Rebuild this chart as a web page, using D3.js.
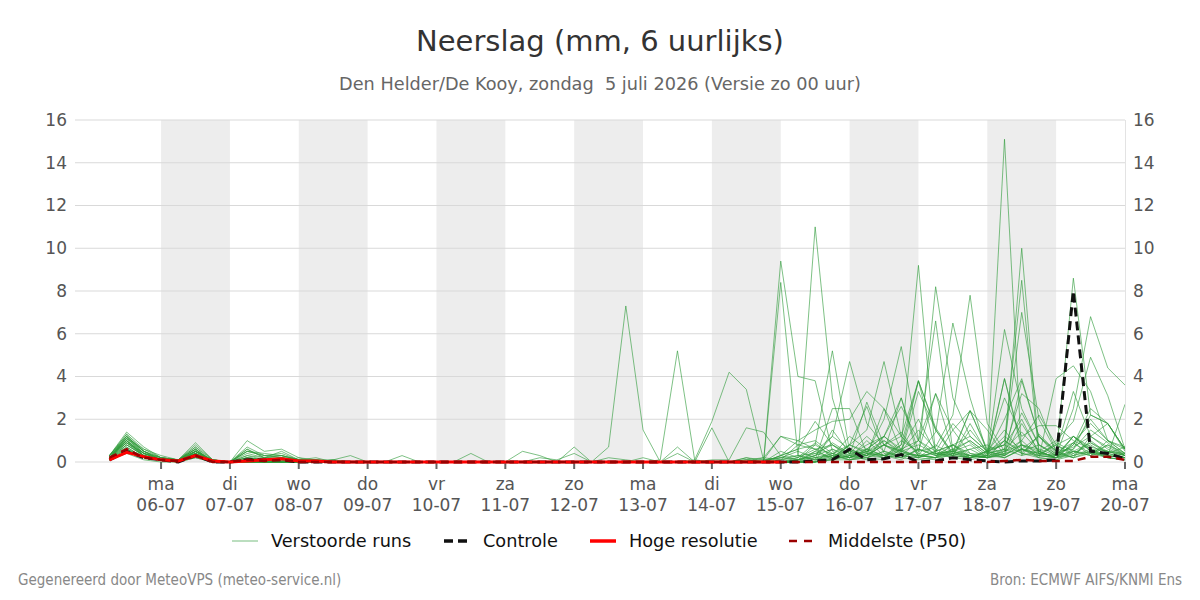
<!DOCTYPE html>
<html lang="nl">
<head>
    <meta charset="UTF-8">
    <title>Neerslag ensemble</title>
    <script src="https://d3js.org/d3.v7.min.js"></script>
    <style>
        body { margin: 0; background: #fff; }
        svg { font-family: "DejaVu Sans", sans-serif; }
    </style>
</head>
<body>
    <div id="chart"></div>

    <script>
        // 6-hourly steps, first value at zo 05-07 06:00 UTC
        const firstStep = Date.UTC(2026, 6, 5, 6);
        const stepHours = 6;
        const dayNames = ["zo", "ma", "di", "wo", "do", "vr", "za"];
        const yTicks = [0, 2, 4, 6, 8, 10, 12, 14, 16];

        // perturbed ensemble members (mm per 6 h)
        const runs = [
            [0.3,1.4,0.7,0.2, 0.1,0.9,0.1,0, 0.2,0.1,0.2,0.1, 0.1,0.1,0.3,0, 0,0,0,0, 0,0,0,0, 0,0,0,0, 0,0,0,0, 0,0,0,0, 0,0.1,0,9.4, 4.0,3.8,0.5,0.2, 1.0,0.3,0.2,0.1, 0.2,0.5,0.3,0.2, 0.4,2.3,0.8,0.3, 1.2,0.6,0.3,0.2],
            [0.2,1.2,0.5,0.1, 0.1,0.6,0,0, 1.0,0.5,0.6,0.2, 0.1,0,0,0, 0,0,0,0, 0,0,0,0, 0,0,0,0, 0,0,0,0, 0,0,0,0, 0,0,0,8.4, 0.3,0.1,2.5,2.5, 0.4,0.2,0.8,3.8, 0.5,0.2,0.1,0.3, 0.2,0.6,1.2,0.5, 0.9,1.8,1.0,0.7],
            [0.2,1.1,0.4,0.1, 0,0.5,0.1,0, 0.7,0.3,0.4,0.1, 0.1,0,0,0, 0,0,0,0, 0,0,0,0, 0,0,0,0, 0,0,0,0, 0,0,0,0, 0,0,0,0.1, 0.2,11.0,3.0,0.3, 0.1,1.2,0.6,0.2, 0.1,0.4,0.2,0.3, 1.0,0.4,0.2,0.1, 0.3,0.5,0.2,0.1],
            [0.3,1.0,0.3,0.1, 0.1,0.4,0,0, 0.6,0.2,0.3,0.1, 0,0.1,0,0, 0,0,0,0, 0,0,0,0, 0,0,0,0, 0,0,0,0, 0,0,0,0, 0,0.2,0,0.3, 0.6,0.8,5.2,0.5, 0.3,2.5,1.2,0.4, 0.2,0.3,1.5,0.5, 0.3,1.0,2.2,0.8, 0.4,0.9,0.5,0.3],
            [0.2,0.9,0.4,0.2, 0.1,0.4,0.1,0, 0.5,0.3,0.3,0.1, 0.1,0,0,0, 0,0,0,0, 0,0,0,0, 0,0,0,0, 0,0,0,0, 0,0,0,0, 0,0,0.1,0.2, 0.1,0.3,1.2,4.7, 1.8,0.8,0.3,1.0, 3.2,1.5,0.4,0.2, 0.6,1.4,0.5,0.2, 0.6,2.2,1.8,0.6],
            [0.1,0.8,0.3,0.1, 0,0.3,0,0, 0.3,0.2,0.2,0.1, 0,0,0,0, 0,0,0,0, 0,0,0,0, 0,0,0,0, 0,0,0,0, 0,0,0,0, 0,0.1,0.2,1.2, 1.0,1.5,1.9,2.0, 3.3,2.5,0.5,0.2, 0.5,0.8,1.2,0.5, 3.0,1.2,1.7,1.7, 1.0,0.6,0.5,0.3],
            [0.2,1.2,0.5,0.1, 0.1,0.7,0,0, 0.2,0.1,0.1,0, 0.1,0,0,0, 0,0,0,0, 0,0,0,0, 0,0,0,0, 0,0,0,0, 0,0,0,0, 0,0,0,0.1, 0.3,0.1,0.4,0.8, 1.5,4.7,1.2,0.3, 0.2,0.4,2.4,0.5, 0.3,0.8,0.4,0.2, 0.5,0.3,0.8,0.4],
            [0.3,1.3,0.6,0.2, 0.1,0.8,0.1,0, 0.1,0,0.1,0, 0,0,0,0, 0,0,0,0, 0,0,0,0, 0,0,0,0, 0,0,0,0, 0,0,0,0, 0,0,0,0, 0,0.5,0.2,0.8, 0.4,2.0,5.4,1.0, 0.3,0.6,1.0,0.4, 2.0,3.9,1.2,0.4, 0.2,1.2,0.7,0.3],
            [0.2,1.0,0.3,0.1, 0.1,0.5,0,0, 0,0,0.1,0, 0,0,0,0, 0,0,0,0, 0,0,0,0, 0,0,0,0, 0,0,0,0, 0,0,0,0, 0,0,0,0.2, 0.5,0.2,0.3,1.2, 0.6,0.3,0.8,9.2, 0.3,0.8,0.2,0.5, 1.5,0.4,0.3,0.2, 0.8,2.5,1.8,0.6],
            [0.1,0.7,0.2,0.1, 0,0.3,0,0, 0.1,0.1,0.1,0, 0,0.1,0,0, 0,0,0,0, 0,0,0,0, 0,0,0,0, 0,0,0,0, 0,0,0,0, 0,0,0,0, 0.1,0.3,0.9,0.4, 1.2,0.5,3.0,0.2, 8.2,3.0,1.2,0.5, 0.2,0.6,0.4,0.8, 0.3,1.0,0.4,0.2],
            [0.2,0.9,0.4,0.1, 0.1,0.6,0,0, 0,0,0,0, 0,0,0,0, 0,0,0,0, 0,0,0,0, 0,0,0,0, 0,0,0,0, 0,0,0,0, 0,0,0,0, 0,0,0.6,0.3, 0.8,1.2,2.6,1.0, 6.6,0.5,0.8,0.2, 3.9,0.6,0.2,0.1, 0.5,0.3,1.0,0.4],
            [0.2,1.1,0.5,0.1, 0,0.5,0.1,0, 0.5,0.3,0.2,0.1, 0,0,0,0, 0,0,0,0, 0,0,0,0, 0,0,0,0, 0,0,0,0, 0,0,0,0, 0,0,0,0, 0.2,0.6,0.1,0.3, 0.5,0.8,1.4,0.3, 1.4,6.5,3.0,0.4, 0.6,0.3,1.3,0.5, 0.2,0.5,0.4,0.7],
            [0.3,1.2,0.4,0.2, 0.1,0.4,0,0, 0.2,0.1,0.2,0, 0,0,0,0, 0,0,0,0, 0,0,0,0, 0,0,0,0, 0,0,0,0, 0,0,0,0, 0,0,0,0, 0,0.2,0.4,0.1, 0.3,0.2,1.0,0.5, 0.7,2.2,7.8,1.8, 0.5,1.0,0.3,0.2, 0.4,0.8,0.3,0.2],
            [0.2,1.0,0.3,0.1, 0.1,0.5,0,0, 0.1,0,0,0, 0,0,0,0, 0,0,0,0, 0,0,0,0, 0,0,0,0, 0,0,0,0, 0,0,0,0, 0,0,0,0, 0,0,0.3,0.1, 0.2,0.5,0.2,0.6, 0.3,0.4,0.6,0.2, 15.1,0.3,0.5,0.2, 0.3,0.6,0.2,0.4],
            [0.3,1.3,0.5,0.2, 0.1,0.6,0,0, 0.6,0.2,0.5,0.1, 0,0,0,0, 0,0,0,0, 0,0,0,0, 0,0,0,0, 0,0,0,0, 0,0,0,0, 0,0,0,0, 0.1,0.8,0.3,0.1, 0.2,0.1,0.6,1.0, 0.5,0.8,0.4,0.3, 0.5,10.0,0.5,0.2, 0.9,0.4,0.8,0.3],
            [0.2,0.8,0.3,0.1, 0,0.4,0,0, 0,0,0,0, 0,0,0,0, 0,0,0,0, 0,0,0,0, 0,0,0,0, 0,0,0,0, 0,0,0,0, 0,0,0,0, 0,0,1.5,0.4, 0.3,0.8,1.2,3.8, 1.6,0.4,0.2,0.5, 1.0,8.5,0.3,0.8, 1.2,0.5,0.2,0.1],
            [0.1,0.6,0.2,0.1, 0,0.3,0,0, 0.1,0.1,0,0, 0,0,0,0, 0,0,0,0, 0,0,0,0, 0,0,0,0, 0,0,0,0, 0,0,0,0, 0,0,0,0, 0,0.3,0.6,0.2, 0.5,0.2,0.4,0.3, 0.2,1.5,2.4,0.6, 0.8,7.0,2.0,0.5, 0.6,1.5,0.9,0.3],
            [0.2,1.1,0.4,0.1, 0.1,0.5,0,0, 0,0,0,0, 0,0,0,0, 0,0,0,0, 0,0,0,0, 0,0,0,0, 0,0,0,0, 0,0,0,0, 0,0,0,0, 0.1,0.2,0.1,0.8, 2.6,0.4,0.3,0.2, 0.5,1.8,0.9,0.3, 6.2,2.5,0.8,0.4, 0.7,1.2,1.8,0.5],
            [0.3,0.9,0.3,0.1, 0,0.5,0.1,0, 0.1,0,0,0, 0,0,0,0, 0,0,0,0, 0,0,0,0, 0,0,0,0, 0,0,0,0, 0,0,0,0, 0,0,0,0, 0,0,0.2,0.5, 0.4,0.3,0.1,0.6, 0.4,0.2,0.3,0.5, 0.8,2.0,0.4,0.3, 8.6,2.2,1.8,0.6],
            [0.2,0.7,0.2,0.1, 0.1,0.3,0,0, 0,0,0,0, 0,0,0,0, 0,0,0,0, 0,0,0,0, 0,0,0,0, 0,0,0,0, 0,0,0,0, 0,0,0,0, 0,0.1,0.3,0.2, 0.6,1.2,0.5,0.3, 0.2,0.6,0.3,0.2, 0.5,0.8,0.2,3.9, 4.5,3.3,1.0,0.4],
            [0.1,0.5,0.2,0.1, 0,0.2,0,0, 0,0,0,0, 0,0,0,0, 0,0,0,0, 0,0,0,0, 0,0,0,0, 0,0,0,0, 0,0,0,0, 0,0,0,0, 0,0,0.1,0.3, 0.2,0.5,0.3,0.2, 0.8,0.3,0.2,0.4, 1.2,0.6,0.4,0.3, 2.5,6.8,4.4,3.6],
            [0.2,0.8,0.3,0.1, 0.1,0.4,0,0, 0,0,0,0, 0,0,0,0, 0,0,0,0, 0,0,0,0, 0,0,0,0, 0,0,0,0, 0,0,0,0, 0,0,0,0, 0.1,0.4,0.2,0.6, 0.3,0.8,0.5,0.3, 0.4,0.3,0.6,0.8, 0.3,1.8,0.5,1.0, 1.9,4.9,3.1,0.6],
            [0.2,1.0,0.4,0.1, 0,0.4,0,0, 0.2,0.1,0.1,0, 0,0,0,0, 0,0,0,0, 0,0,0,0, 0,0,0,0, 0,0.7,7.3,1.5, 0,0,0,0, 0,0,0,0, 0,0,0.1,0.1, 0.4,0.3,0.2,0.6, 0.3,0.5,1.0,0.4, 0.2,0.6,0.3,0.2, 1.2,0.5,0.3,2.7],
            [0.1,0.6,0.2,0.1, 0,0.3,0,0, 0,0,0,0, 0,0,0,0, 0,0,0,0, 0,0,0,0, 0,0,0,0, 0,0,0,0, 0.1,5.2,0.1,0, 0,0,0.2,0.1, 0.8,0.6,0.4,0.2, 0.3,1.0,0.5,1.5, 0.6,0.3,0.2,0.5, 0.8,0.4,1.2,0.3, 0.5,0.9,0.4,0.2],
            [0.3,1.2,0.5,0.2, 0.1,0.6,0,0, 0.3,0.1,0.2,0.1, 0,0,0,0, 0,0,0,0, 0,0,0,0, 0,0,0,0, 0,0,0,0, 0,0,0.1,1.9, 4.2,3.4,0.1,0.2, 0.3,0.4,0.8,0.2, 0.5,1.0,0.4,0.3, 0.2,0.8,0.3,0.2, 0.4,0.6,0.3,0.9, 0.5,0.4,0.2,0.1],
            [0.2,0.9,0.3,0.1, 0,0.5,0,0, 0.1,0,0,0.2, 0,0,0,0, 0,0.3,0,0, 0,0.4,0,0, 0.5,0.3,0,0.7, 0,0,0,0.2, 0,0.7,0,1.6, 0,0.2,0.1,1.2, 0.8,1.0,0.4,0.2, 0.6,0.3,0.5,0.8, 0.4,0.5,2.4,1.5, 0.3,0.8,0.5,0.2, 0.9,0.3,0.5,0.2],
            [0.2,1.0,0.4,0.1, 0.1,0.5,0,0, 0.4,0.2,0.3,0.1, 0,0,0,0, 0,0,0,0, 0,0,0,0, 0,0.2,0.1,0.4, 0,0.2,0.1,0, 0,0.4,0,0.1, 0.1,1.6,1.4,0.3, 1.0,0.6,0.8,0.3, 2.8,0.8,0.5,3.8, 1.5,0.4,0.3,0.2, 0.3,3.8,1.2,0.5, 3.3,1.2,0.6,0.3],
            [0.1,0.4,0.1,0, 0,0.2,0,0, 0,0,0,0, 0,0,0,0, 0,0,0,0, 0,0,0,0, 0,0,0,0, 0,0,0,0, 0,0,0,0, 0,0.1,0,0.3, 0.1,0.5,1.2,0.6, 0.3,0.8,0.4,3.3, 1.5,0.3,1.8,0.4, 0.6,3.2,2.5,0.5, 0.2,0.4,0.3,0.2],
            [0.3,1.1,0.6,0.3, 0.1,0.7,0.1,0, 0.5,0.4,0.3,0.1, 0.2,0,0,0, 0,0,0,0, 0,0,0,0, 0,0,0,0, 0,0,0,0, 0,0,0,0, 0,0,0,0.3, 0.6,1.9,0.8,0.4, 0.6,1.2,3.0,0.5, 3.2,0.5,0.3,0.2, 1.0,0.5,0.8,0.3, 1.2,0.7,0.5,0.4],
            [0.2,0.6,0.3,0.1, 0,0.4,0,0, 0,0,0,0, 0,0,0,0, 0,0,0,0, 0,0,0,0, 0,0,0,0, 0,0,0,0, 0,0,0,0, 0,0,0,0.5, 0.2,0.9,0.2,0.8, 0.5,0.3,0.6,2.0, 0.4,0.5,0.2,0.3, 3.9,0.8,0.6,0.3, 0.8,2.0,1.0,0.6]
        ];

        const controle = [0.1,0.5,0.2,0.1, 0,0.3,0,0, 0.1,0.1,0.1,0, 0,0,0,0, 0,0,0,0, 0,0,0,0, 0,0,0,0, 0,0,0,0, 0,0,0,0, 0,0,0,0, 0,0.05,0.1,0.6, 0.1,0.15,0.35,0, 0.05,0.2,0.1,0.05, 0,0.05,0.05,0.1, 8.0,0.5,0.4,0.15];
        // high resolution run stops after 10 days
        const hogeResolutie = [0.1,0.45,0.25,0.1, 0.05,0.3,0.05,0, 0.05,0.1,0.15,0.05, 0.05,0,0,0, 0,0,0,0, 0,0,0,0, 0,0,0,0, 0,0,0,0, 0,0,0,0, 0,0,0,0];
        const middelste = [0.2,0.6,0.2,0.1, 0.05,0.3,0,0, 0.1,0.05,0.1,0, 0,0,0,0, 0,0,0,0, 0,0,0,0, 0,0,0,0, 0,0,0,0, 0,0,0,0, 0,0,0,0, 0,0,0,0, 0,0,0,0, 0,0,0,0, 0.05,0.1,0.05,0.05, 0.05,0.25,0.25,0.1];

        const width = 1200, height = 600;
        const margin = { top: 120, right: 75, bottom: 138, left: 75 };

        const svg = d3.select("#chart").append("svg")
            .attr("width", width)
            .attr("height", height);

        const toTime = i => new Date(firstStep + i * stepHours * 36e5);

        const x = d3.scaleUtc()
            .domain([new Date(firstStep - 12 * 36e5), new Date(Date.UTC(2026, 6, 20))])
            .range([margin.left, width - margin.right]);

        const y = d3.scaleLinear()
            .domain([0, 16])
            .range([height - margin.bottom, margin.top]);

        svg.append("clipPath").attr("id", "plot")
            .append("rect")
            .attr("x", margin.left).attr("y", margin.top - 10)
            .attr("width", width - margin.left - margin.right)
            .attr("height", y(0) - margin.top + 20);

        // alternating day bands
        const days = d3.utcDay.range(new Date(Date.UTC(2026, 6, 6)), new Date(Date.UTC(2026, 6, 20)));
        svg.append("g").selectAll("rect")
            .data(days.filter((d, i) => i % 2 === 0))
            .join("rect")
            .attr("x", d => x(d))
            .attr("y", margin.top)
            .attr("width", d => x(d3.utcDay.offset(d, 1)) - x(d))
            .attr("height", y(0) - margin.top)
            .attr("fill", "#ededed");

        // grid
        svg.append("g").selectAll("line")
            .data(yTicks)
            .join("line")
            .attr("x1", margin.left)
            .attr("x2", width - margin.right)
            .attr("y1", d => y(d))
            .attr("y2", d => y(d))
            .attr("stroke", "#d9d9d9")
            .attr("stroke-width", 1);

        svg.append("line")
            .attr("x1", width - margin.right + 0.5).attr("x2", width - margin.right + 0.5)
            .attr("y1", margin.top).attr("y2", y(0))
            .attr("stroke", "#e3e3e3");

        // y labels both sides
        const yl = svg.append("g").attr("font-size", 17).attr("fill", "#555");
        yl.selectAll("text.l").data(yTicks).join("text")
            .attr("class", "l")
            .attr("x", 67).attr("y", d => y(d))
            .attr("dy", "0.35em").attr("text-anchor", "end")
            .text(d => d);
        yl.selectAll("text.r").data(yTicks).join("text")
            .attr("class", "r")
            .attr("x", 1133).attr("y", d => y(d))
            .attr("dy", "0.35em").attr("text-anchor", "start")
            .text(d => d);

        // x ticks
        const tickDays = d3.utcDay.range(new Date(Date.UTC(2026, 6, 6)), new Date(Date.UTC(2026, 6, 20, 1)));
        const xt = svg.append("g").selectAll("g").data(tickDays).join("g")
            .attr("transform", d => `translate(${x(d)},0)`);
        xt.append("line")
            .attr("y1", y(0)).attr("y2", y(0) + 7)
            .attr("stroke", "#666").attr("stroke-width", 2);
        xt.append("text")
            .attr("y", 490).attr("text-anchor", "middle")
            .attr("font-size", 17).attr("fill", "#555")
            .text(d => dayNames[d.getUTCDay()]);
        xt.append("text")
            .attr("y", 511).attr("text-anchor", "middle")
            .attr("font-size", 17).attr("fill", "#555")
            .text(d => d3.utcFormat("%d-%m")(d));

        const line = d3.line()
            .x((d, i) => x(toTime(i)))
            .y(d => y(d));

        const plot = svg.append("g").attr("clip-path", "url(#plot)");

        plot.append("g").selectAll("path")
            .data(runs)
            .join("path")
            .attr("d", line)
            .attr("fill", "none")
            .attr("stroke", "#2e9b3a")
            .attr("stroke-opacity", 0.62)
            .attr("stroke-width", 1);

        plot.append("path")
            .attr("d", line(controle))
            .attr("fill", "none")
            .attr("stroke", "#111")
            .attr("stroke-width", 3)
            .attr("stroke-dasharray", "9,5");

        plot.append("path")
            .attr("d", line(hogeResolutie))
            .attr("fill", "none")
            .attr("stroke", "#ff0000")
            .attr("stroke-width", 3);

        plot.append("path")
            .attr("d", line(middelste))
            .attr("fill", "none")
            .attr("stroke", "#9b0000")
            .attr("stroke-width", 2.5)
            .attr("stroke-dasharray", "8,5");

        // titles
        svg.append("text")
            .attr("x", width / 2).attr("y", 51)
            .attr("text-anchor", "middle")
            .attr("font-size", 29).attr("fill", "#333")
            .text("Neerslag (mm, 6 uurlijks)");
        svg.append("text")
            .attr("x", width / 2).attr("y", 90)
            .attr("text-anchor", "middle")
            .attr("font-size", 17.7).attr("fill", "#666")
            .attr("xml:space", "preserve")
            .text("Den Helder/De Kooy, zondag  5 juli 2026 (Versie zo 00 uur)");

        // legend
        const legendItems = [
            { label: "Verstoorde runs", x: 232, color: "#2e9b3a", w: 1, dash: null, op: 0.65 },
            { label: "Controle", x: 444, color: "#111", w: 3.5, dash: "9,5", op: 1 },
            { label: "Hoge resolutie", x: 590, color: "#ff0000", w: 3.5, dash: null, op: 1 },
            { label: "Middelste (P50)", x: 789, color: "#9b0000", w: 2.5, dash: "8,7", op: 1 }
        ];
        const lg = svg.append("g").selectAll("g").data(legendItems).join("g")
            .attr("transform", d => `translate(${d.x},541)`);
        lg.append("line")
            .attr("x1", 0).attr("x2", 26)
            .attr("stroke", d => d.color)
            .attr("stroke-width", d => d.w)
            .attr("stroke-opacity", d => d.op)
            .attr("stroke-dasharray", d => d.dash);
        lg.append("text")
            .attr("x", 39).attr("dy", "0.35em")
            .attr("font-size", 17.7).attr("fill", "#111")
            .text(d => d.label);

        // footer
        svg.append("text")
            .attr("x", 18).attr("y", 585)
            .attr("font-family", "'DejaVu Sans Condensed', 'DejaVu Sans', sans-serif")
            .attr("font-stretch", "condensed")
            .attr("font-size", 15).attr("fill", "#888")
            .text("Gegenereerd door MeteoVPS (meteo-service.nl)");
        svg.append("text")
            .attr("x", 1182).attr("y", 585)
            .attr("text-anchor", "end")
            .attr("font-family", "'DejaVu Sans Condensed', 'DejaVu Sans', sans-serif")
            .attr("font-stretch", "condensed")
            .attr("font-size", 15).attr("fill", "#888")
            .text("Bron: ECMWF AIFS/KNMI Ens");
    </script>
</body>
</html>
